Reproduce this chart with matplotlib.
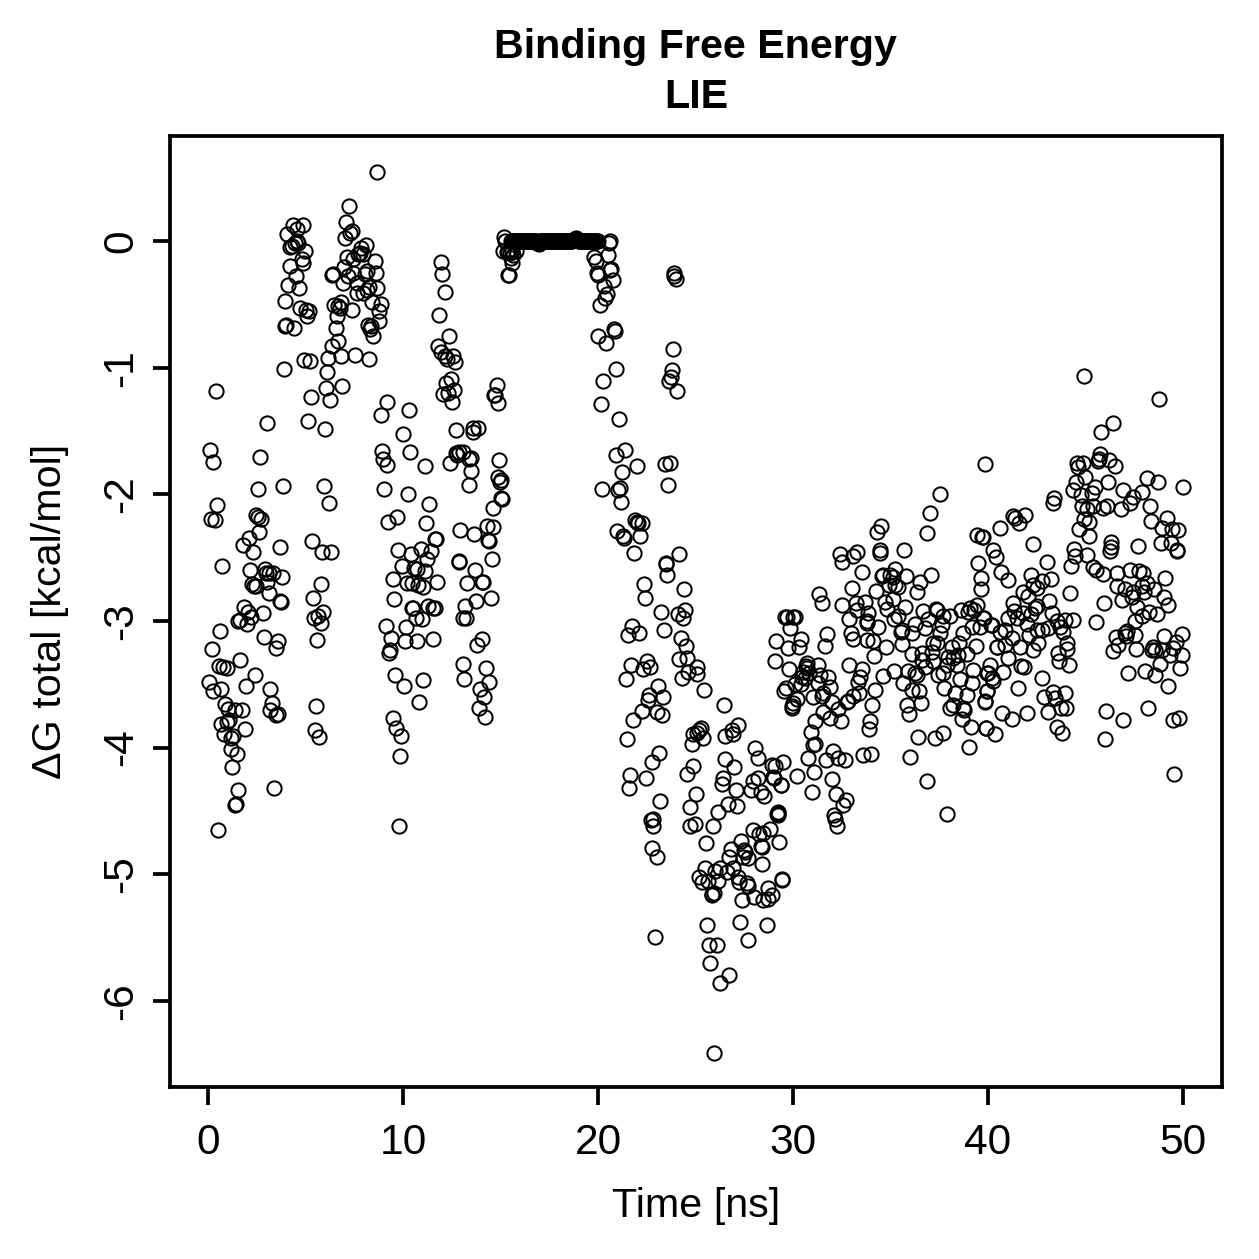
# -*-coding:utf8;-*-
import numpy as np
from matplotlib import pyplot as plt

plt.rcParams['font.family'] = ['Liberation Sans', 'DejaVu Sans']
plt.rcParams['axes.unicode_minus'] = False

# (time [ns], dG total [kcal/mol]) read per stretch of the trajectory
run_0_to_4 = [
    (0.39, -1.182), (0.1, -1.65), (0.24, -1.747), (2.68, -1.708), (3.03, -1.437), (3.88, -1.01),
    (2.55, -1.96), (3.85, -1.934), (0.44, -2.087), (0.14, -2.195), (0.34, -2.2), (2.46, -2.163),
    (2.58, -2.176), (2.7, -2.195), (2.63, -2.3), (2.1, -2.348), (1.79, -2.4), (2.32, -2.458),
    (3.69, -2.416), (0.73, -2.563), (2.15, -2.595), (2.9, -2.59), (2.97, -2.624), (3.13, -2.624),
    (3.35, -2.624), (3.81, -2.65), (2.24, -2.711), (2.36, -2.721), (2.46, -2.724), (3.01, -2.69),
    (3.13, -2.779), (3.69, -2.84), (3.73, -2.848), (1.85, -2.892), (2.05, -2.926), (2.2, -2.971),
    (2.8, -2.934), (1.56, -3.0), (1.64, -2.995), (2.02, -3.024), (0.6, -3.08), (2.85, -3.124),
    (3.57, -3.161), (3.47, -3.216), (0.19, -3.221), (1.64, -3.308), (0.55, -3.353), (0.79, -3.361),
    (0.96, -3.374), (2.39, -3.424), (0.03, -3.482), (0.27, -3.55), (0.65, -3.537), (1.95, -3.513),
    (3.2, -3.537), (3.26, -3.645), (3.18, -3.703), (3.49, -3.742), (3.61, -3.734), (0.87, -3.655),
    (1.04, -3.697), (1.38, -3.703), (1.73, -3.703), (1.09, -3.782), (0.99, -3.795), (0.67, -3.816),
    (1.9, -3.855), (0.84, -3.892), (1.27, -3.908), (1.16, -3.926), (1.18, -4.011), (1.5, -4.05),
    (1.23, -4.15), (1.54, -4.334), (3.4, -4.316), (1.42, -4.445), (1.38, -4.45), (0.5, -4.65),
]
run_4_to_9 = [
    (8.68, 0.547), (7.25, 0.276), (7.08, 0.153), (7.37, 0.079), (7.3, 0.066), (7.03, 0.024),
    (4.34, 0.124), (4.85, 0.124), (4.58, 0.092), (4.05, 0.055), (4.55, 0.0), (4.46, -0.013),
    (4.29, -0.04), (4.2, -0.05), (4.63, -0.018), (4.97, -0.079), (4.8, -0.14), (4.89, -0.171),
    (4.19, -0.195), (4.5, -0.276), (4.12, -0.35), (4.68, -0.374), (3.95, -0.471), (4.74, -0.529),
    (5.03, -0.545), (5.2, -0.55), (5.09, -0.592), (4.02, -0.663), (3.97, -0.668), (4.43, -0.687),
    (8.1, -0.029), (7.83, -0.053), (7.8, -0.092), (7.71, -0.105), (7.93, -0.105), (7.11, -0.124),
    (7.45, -0.145), (8.55, -0.158), (6.97, -0.205), (8.14, -0.237), (8.62, -0.255), (7.45, -0.25),
    (6.43, -0.258), (6.38, -0.268), (8.05, -0.263), (7.2, -0.276), (6.94, -0.334), (7.66, -0.329),
    (8.26, -0.36), (8.68, -0.374), (8.14, -0.389), (7.62, -0.413), (7.97, -0.413), (8.39, -0.479),
    (8.85, -0.5), (6.8, -0.479), (6.48, -0.505), (6.68, -0.513), (6.77, -0.526), (7.4, -0.547),
    (8.79, -0.553), (6.6, -0.592), (8.79, -0.632), (8.22, -0.666), (8.36, -0.671), (8.31, -0.692),
    (8.48, -0.75), (6.55, -0.69), (6.68, -0.792), (6.36, -0.829), (6.14, -0.924), (6.84, -0.91),
    (7.54, -0.903), (8.27, -0.929), (4.94, -0.94), (5.23, -0.945), (6.09, -1.037), (6.89, -1.142),
    (6.03, -1.163), (5.3, -1.232), (6.24, -1.258), (5.15, -1.418), (5.98, -1.484), (5.93, -1.932),
    (6.19, -2.069), (5.35, -2.371), (5.83, -2.453), (6.29, -2.458), (5.79, -2.705), (5.38, -2.821),
    (5.91, -2.932), (5.66, -2.958), (5.44, -2.979), (5.78, -3.013), (5.59, -3.153), (5.54, -3.668),
    (5.49, -3.858), (5.69, -3.919),
]
run_9_to_12 = [
    (9.2, -1.268), (10.29, -1.334), (8.89, -1.376), (9.98, -1.521), (8.94, -1.658), (10.34, -1.666),
    (8.99, -1.718), (9.16, -1.768), (11.15, -1.776), (9.04, -1.958), (10.24, -1.998), (11.35, -2.076),
    (9.67, -2.176), (9.23, -2.219), (11.2, -2.229), (11.69, -2.35), (11.64, -2.355), (9.74, -2.44),
    (10.39, -2.471), (10.9, -2.432), (11.42, -2.445), (11.25, -2.511), (9.95, -2.563), (10.58, -2.584),
    (10.74, -2.592), (11.13, -2.605), (9.47, -2.671), (10.19, -2.703), (10.44, -2.697), (10.79, -2.716),
    (11.04, -2.734), (11.76, -2.69), (9.54, -2.824), (10.44, -2.9), (10.53, -2.9), (11.3, -2.882),
    (11.52, -2.9), (11.64, -2.9), (10.65, -2.979), (10.96, -2.984), (9.11, -3.037), (10.15, -3.047),
    (9.4, -3.137), (10.1, -3.158), (10.7, -3.161), (11.55, -3.142), (9.33, -3.229), (9.28, -3.255),
    (9.61, -3.426), (10.05, -3.516), (11.01, -3.466), (10.8, -3.637), (9.49, -3.766), (9.66, -3.847),
    (9.9, -3.908), (9.85, -4.069), (9.79, -4.616),
]
run_12_to_15 = [
    (11.95, -0.166), (12.0, -0.26), (12.15, -0.405), (11.85, -0.584), (12.34, -0.747), (11.8, -0.829),
    (11.93, -0.876), (12.15, -0.908), (12.27, -0.934), (12.58, -0.908), (12.67, -0.955), (12.46, -1.092),
    (12.2, -1.118), (12.62, -1.176), (12.33, -1.197), (12.07, -1.21), (12.5, -1.268), (14.8, -1.137),
    (14.72, -1.218), (14.67, -1.213), (14.85, -1.276), (12.7, -1.489), (13.57, -1.474), (13.86, -1.476),
    (13.61, -1.508), (12.41, -1.755), (12.72, -1.671), (12.89, -1.663), (13.06, -1.666), (12.79, -1.692),
    (13.47, -1.71), (13.4, -1.724), (13.49, -1.816), (14.94, -1.732), (14.89, -1.863), (15.0, -1.89),
    (13.4, -1.926), (14.97, -1.9), (15.06, -2.037), (15.0, -2.03), (14.63, -2.105), (12.94, -2.284),
    (13.64, -2.313), (14.29, -2.248), (14.6, -2.255), (14.38, -2.361), (14.43, -2.366), (14.55, -2.508),
    (12.87, -2.537), (12.89, -2.529), (13.69, -2.597), (13.3, -2.697), (14.03, -2.69), (14.08, -2.69),
    (13.74, -2.84), (14.49, -2.816), (13.2, -2.884), (13.09, -2.974), (13.23, -2.976), (14.07, -3.142),
    (13.78, -3.189), (13.06, -3.342), (14.26, -3.374), (13.13, -3.458), (14.41, -3.479), (13.95, -3.537),
    (14.15, -3.603), (13.9, -3.684), (14.2, -3.76),
]
run_15_to_21 = [
    (15.18, 0.029), (15.23, 0.003), (15.11, -0.076), (15.31, -0.089), (15.57, -0.076), (15.79, -0.076),
    (15.66, -0.11), (15.52, -0.137), (15.6, -0.176), (15.43, -0.266), (15.4, -0.268), (15.37, -0.084),
    (15.49, -0.097), (20.61, 0.003), (20.55, -0.018), (20.51, -0.108), (19.79, -0.124), (19.9, -0.155),
    (20.68, -0.218), (20.61, -0.229), (19.93, -0.255), (20.02, -0.268), (20.75, -0.31), (20.31, -0.355),
    (20.44, -0.418), (20.34, -0.452), (20.1, -0.502), (20.82, -0.692), (20.85, -0.713), (19.98, -0.752),
    (20.39, -0.808), (20.9, -1.008), (20.24, -1.105), (20.15, -1.289), (21.09, -1.402),
]
# the stretch where dG sits flat around zero
flat_time = [
    15.55, 15.6, 15.65, 15.7, 15.75, 15.8, 15.85, 15.9, 15.95, 16.0,
    16.05, 16.1, 16.15, 16.2, 16.25, 16.3, 16.35, 16.4, 16.45, 16.5,
    16.55, 16.6, 16.65, 16.7, 16.75, 16.8, 16.85, 16.9, 16.95, 17.0,
    17.05, 17.1, 17.15, 17.2, 17.25, 17.3, 17.35, 17.4, 17.45, 17.5,
    17.55, 17.6, 17.65, 17.7, 17.75, 17.8, 17.85, 17.9, 17.95, 18.0,
    18.05, 18.1, 18.15, 18.2, 18.25, 18.3, 18.35, 18.4, 18.45, 18.5,
    18.55, 18.6, 18.65, 18.7, 18.75, 18.8, 18.85, 18.9, 18.95, 19.0,
    19.05, 19.1, 19.15, 19.2, 19.25, 19.3, 19.35, 19.4, 19.45, 19.5,
    19.55, 19.6, 19.65, 19.7, 19.75, 19.8, 19.85, 19.9, 19.95, 20.0,
]
flat_dg = [
    0.0, -0.004, 0.002, -0.002, 0.003, -0.003, 0.0, 0.002, -0.004, 0.001,
    -0.002, 0.003, 0.0, -0.003, 0.002, -0.001, 0.003, -0.002, 0.0, 0.002,
    -0.003, 0.001, -0.004, 0.002, -0.001, 0.003, -0.012, -0.018, -0.02, -0.014,
    0.0, 0.002, -0.003, 0.001, -0.002, 0.003, 0.0, -0.003, 0.002, -0.001,
    0.003, -0.002, 0.0, 0.002, -0.003, 0.001, -0.004, 0.002, -0.001, 0.003,
    0.0, -0.002, 0.003, -0.003, 0.001, -0.001, 0.002, -0.003, 0.003, 0.0,
    0.002, -0.002, 0.001, 0.004, 0.01, 0.016, 0.02, 0.018, 0.008, 0.0,
    -0.002, 0.003, 0.0, -0.003, 0.002, -0.001, 0.003, -0.002, 0.0, 0.002,
    -0.003, 0.001, -0.004, 0.002, -0.001, 0.003, 0.0, -0.002, 0.001, -0.003,
]
run_21_to_24 = [
    (21.4, -1.65), (20.94, -1.689), (22.0, -1.779), (21.25, -1.823), (20.2, -1.958), (21.13, -1.952),
    (21.04, -1.968), (21.19, -2.063), (21.9, -2.2), (21.98, -2.216), (22.24, -2.223), (22.07, -2.229),
    (20.97, -2.287), (21.3, -2.326), (21.35, -2.347), (22.15, -2.326), (21.84, -2.46), (24.17, -2.474),
    (23.49, -2.545), (23.88, -0.255), (23.91, -0.273), (24.02, -0.302), (23.84, -0.855), (23.79, -1.018),
    (23.74, -1.076), (23.66, -1.108), (24.05, -1.184), (23.69, -1.752), (23.45, -1.763), (23.61, -1.924),
    (23.5, -2.552), (23.55, -2.639), (22.36, -2.707), (22.39, -2.821), (24.41, -2.75), (23.25, -2.926),
    (24.08, -2.942), (24.46, -2.913), (24.34, -2.979), (23.4, -3.068), (21.76, -3.039), (21.54, -3.113),
    (22.12, -3.094), (24.24, -3.134), (24.51, -3.194), (24.17, -3.297), (24.54, -3.289), (21.69, -3.344),
    (22.49, -3.315), (22.29, -3.381), (22.66, -3.36), (21.45, -3.46), (23.09, -3.515), (22.6, -3.584),
    (23.35, -3.597), (22.58, -3.623), (22.25, -3.713), (23.04, -3.718), (23.3, -3.739), (21.81, -3.784),
    (21.5, -3.934), (23.14, -4.044), (22.78, -4.113), (22.44, -4.242), (21.66, -4.218), (21.6, -4.321),
    (23.19, -4.42), (22.84, -4.565), (22.7, -4.571), (22.84, -4.618), (22.75, -4.792), (23.0, -4.861),
    (22.94, -5.494),
]
run_24_to_30 = [
    (25.09, -3.36), (24.63, -3.407), (25.06, -3.418), (24.29, -3.447), (25.45, -3.544), (26.44, -3.665),
    (25.28, -3.842), (25.19, -3.86), (24.85, -3.894), (25.09, -3.881), (25.4, -3.921), (24.8, -3.971),
    (27.19, -3.821), (26.85, -3.86), (26.94, -3.892), (26.51, -3.905), (24.85, -4.142), (24.58, -4.207),
    (26.49, -4.089), (26.95, -4.155), (26.39, -4.242), (26.34, -4.286), (27.06, -4.334), (25.0, -4.365),
    (24.7, -4.468), (26.65, -4.444), (27.11, -4.465), (26.15, -4.507), (24.95, -4.602), (24.72, -4.623),
    (25.91, -4.618), (25.54, -4.75), (28.05, -4.007), (28.19, -4.081), (28.9, -4.136), (29.07, -4.144),
    (29.5, -4.11), (28.99, -4.236), (29.36, -4.292), (28.19, -4.244), (27.93, -4.26), (27.84, -4.334),
    (28.34, -4.347), (28.53, -4.386), (29.21, -4.505), (29.25, -4.531), (27.95, -4.65), (28.82, -4.639),
    (28.48, -4.671), (28.27, -4.681), (27.35, -4.734), (29.3, -4.742), (28.34, -4.776), (28.42, -4.786),
    (27.48, -4.808), (27.54, -4.828), (26.8, -4.802), (26.7, -4.86), (27.71, -4.873), (27.45, -4.861),
    (28.39, -4.918), (25.5, -4.952), (26.94, -4.952), (26.25, -4.952), (26.0, -4.971), (26.6, -4.984),
    (25.19, -5.018), (25.31, -5.063), (25.66, -5.057), (26.17, -5.05), (27.19, -5.018), (27.25, -5.06),
    (27.62, -5.071), (27.71, -5.092), (29.42, -5.045), (29.45, -5.039), (28.73, -5.105), (25.83, -5.158),
    (25.95, -5.15), (25.86, -5.163), (28.0, -5.176), (27.4, -5.202), (28.48, -5.202), (28.73, -5.197),
    (28.92, -5.163), (25.59, -5.397), (27.3, -5.379), (28.65, -5.397), (27.69, -5.518), (25.69, -5.555),
    (26.08, -5.562), (25.74, -5.7), (26.73, -5.794), (26.24, -5.86), (25.95, -6.415), (29.37, -4.295),
    (29.03, -4.237), (29.25, -4.514), (29.2, -4.524), (29.06, -3.314), (29.13, -3.158), (29.79, -3.379),
    (29.74, -3.216), (29.85, -3.058), (29.59, -2.971), (29.71, -2.971), (29.98, -2.966), (29.62, -3.532),
    (29.54, -3.553), (29.93, -3.669), (29.93, -3.69),
]
run_30_to_35 = [
    (30.22, -4.221), (30.75, -4.085), (31.09, -4.192), (30.96, -4.35), (32.0, -4.245), (32.2, -4.369),
    (32.72, -4.414), (32.58, -4.453), (32.1, -4.532), (32.15, -4.566), (32.24, -4.616), (32.07, -4.027),
    (31.69, -4.098), (32.32, -4.085), (32.67, -4.095), (33.57, -4.061), (34.0, -4.05), (31.11, -3.971),
    (31.04, -3.982), (30.91, -3.874), (31.14, -3.787), (31.55, -3.721), (31.9, -3.764), (32.46, -3.793),
    (32.32, -3.698), (31.98, -3.637), (32.75, -3.642), (32.8, -3.629), (33.09, -3.589), (33.4, -3.571),
    (34.2, -3.545), (34.03, -3.664), (33.95, -3.787), (33.9, -3.85), (34.63, -3.435), (33.35, -3.479),
    (33.43, -3.44), (33.52, -3.379), (32.89, -3.348), (31.81, -3.44), (31.9, -3.524), (31.38, -3.427),
    (31.3, -3.493), (31.26, -3.348), (31.01, -3.598), (31.47, -3.59), (31.55, -3.566), (30.32, -3.208),
    (30.39, -3.145), (30.1, -2.966), (31.76, -3.103), (31.66, -3.2), (30.7, -3.335), (30.65, -3.356),
    (30.73, -3.374), (30.53, -3.4), (30.84, -3.413), (30.44, -3.44), (30.61, -3.453), (30.39, -3.498),
    (30.1, -3.498), (30.22, -3.619), (30.02, -3.65), (31.35, -2.785), (31.49, -2.858), (32.41, -2.471),
    (32.49, -2.537), (33.26, -2.453), (33.09, -2.487), (34.48, -2.44), (34.46, -2.466), (33.55, -2.616),
    (33.0, -2.74), (32.53, -2.874), (33.23, -2.856), (33.69, -2.848), (33.26, -2.914), (32.87, -2.985),
    (33.86, -2.94), (33.78, -3.0), (33.78, -3.019), (32.97, -3.098), (33.06, -3.145), (34.38, -3.05),
    (33.78, -3.15), (34.12, -3.156), (34.77, -3.208), (34.15, -3.277), (34.26, -2.761), (34.55, -2.643),
    (34.63, -2.637), (34.97, -2.637), (34.94, -2.716), (34.72, -2.848), (34.8, -2.908), (34.29, -2.295),
    (34.5, -2.25),
]
run_35_to_40 = [
    (36.0, -4.071), (36.89, -4.261), (37.9, -4.527), (36.41, -3.916), (37.28, -3.927), (37.71, -3.887),
    (39.01, -3.992), (39.9, -3.845), (39.11, -3.834), (38.65, -3.777), (35.95, -3.735), (35.83, -3.664),
    (36.55, -3.65), (38.79, -3.703), (38.05, -3.69), (38.73, -3.69), (38.19, -3.664), (39.85, -3.637),
    (39.97, -3.55), (38.9, -3.585), (38.31, -3.572), (37.74, -3.532), (36.12, -3.545), (36.46, -3.553),
    (35.64, -3.49), (35.2, -3.393), (35.91, -3.393), (36.26, -3.414), (36.34, -3.427), (35.69, -2.44),
    (35.23, -2.593), (35.11, -2.65), (35.79, -2.645), (36.51, -2.69), (37.06, -2.64), (36.34, -2.774),
    (35.4, -2.729), (35.23, -2.716), (35.11, -2.827), (35.74, -2.887), (35.4, -2.961), (35.18, -2.987),
    (35.57, -3.071), (35.52, -3.085), (35.57, -3.182), (36.09, -3.093), (36.26, -3.027), (36.77, -3.058),
    (36.94, -2.987), (36.68, -2.919), (37.32, -2.908), (37.37, -2.914), (37.71, -2.961), (37.62, -3.032),
    (37.54, -3.098), (38.05, -2.961), (38.6, -2.914), (39.08, -2.9), (38.99, -2.927), (39.42, -2.874),
    (39.28, -2.914), (39.73, -2.979), (39.59, -3.045), (39.16, -3.05), (38.73, -3.093), (38.14, -3.203),
    (38.53, -3.177), (39.37, -3.195), (37.2, -3.177), (37.37, -3.177), (36.09, -3.264), (36.6, -3.256),
    (37.11, -3.243), (38.9, -3.261), (37.97, -3.282), (38.48, -3.269), (38.22, -3.295), (36.6, -3.308),
    (37.2, -3.316), (36.77, -3.361), (37.88, -3.348), (38.39, -3.348), (39.25, -3.387), (37.42, -3.427),
    (37.71, -3.413), (38.56, -3.458), (39.2, -3.492), (39.93, -3.413), (39.5, -2.545), (39.62, -2.664),
    (39.66, -2.745), (39.42, -2.321), (39.67, -2.34), (36.85, -2.308), (37.03, -2.147), (37.54, -2.0),
    (39.83, -1.763), (39.73, -2.334), (39.8, -2.978), (39.97, -3.552), (39.85, -3.636), (39.9, -3.842),
]
run_40_to_45 = [
    (40.36, -3.892), (40.1, -3.348), (40.14, -3.032), (40.19, -3.453), (40.44, -3.203), (44.91, -1.065),
    (44.58, -1.755), (44.89, -1.755), (44.63, -1.781), (44.97, -1.865), (44.51, -1.9), (44.34, -1.965),
    (44.75, -2.005), (44.8, -2.089), (44.92, -2.197), (44.68, -2.271), (43.38, -2.031), (43.35, -2.071),
    (41.9, -2.165), (41.3, -2.171), (41.38, -2.189), (41.61, -2.228), (40.6, -2.268), (42.29, -2.394),
    (40.27, -2.439), (40.41, -2.492), (43.01, -2.531), (44.43, -2.431), (44.46, -2.487), (44.24, -2.565),
    (40.65, -2.613), (41.01, -2.676), (43.21, -2.665), (42.21, -2.636), (42.75, -2.684), (42.32, -2.715),
    (42.5, -2.742), (41.78, -2.773), (42.07, -2.8), (44.2, -2.776), (43.15, -2.839), (41.27, -2.86),
    (42.53, -2.881), (41.33, -2.918), (41.81, -2.939), (42.19, -2.947), (43.27, -2.939), (42.41, -2.9),
    (41.04, -2.978), (41.47, -2.978), (41.98, -3.026), (43.52, -2.999), (43.95, -2.992), (44.34, -2.989),
    (40.19, -3.031), (40.62, -3.084), (40.87, -3.071), (43.69, -3.044), (43.86, -3.084), (42.5, -3.071),
    (42.75, -3.071), (43.09, -3.057), (42.12, -3.11), (41.21, -3.136), (42.58, -3.176), (40.44, -3.202),
    (40.87, -3.189), (41.64, -3.202), (42.32, -3.228), (44.03, -3.176), (44.07, -3.223), (41.04, -3.294),
    (43.61, -3.255), (43.66, -3.315), (44.17, -3.35), (40.02, -3.413), (41.68, -3.352), (41.85, -3.365),
    (40.79, -3.407), (40.27, -3.473), (42.75, -3.447), (41.56, -3.526), (40.7, -3.723), (41.21, -3.776),
    (42.0, -3.723), (43.09, -3.72), (42.89, -3.602), (43.32, -3.563), (43.44, -3.61), (43.97, -3.568),
    (43.74, -3.689), (44.0, -3.689), (43.56, -3.834), (43.81, -3.886),
]
run_45_to_50 = [
    (48.75, -1.244), (46.41, -1.439), (45.81, -1.507), (45.74, -1.684), (45.71, -1.721), (45.64, -1.739),
    (46.22, -1.728), (46.51, -1.779), (46.15, -1.9), (45.49, -1.939), (45.32, -1.986), (46.91, -1.965),
    (47.88, -1.981), (48.14, -1.873), (48.74, -1.9), (50.0, -1.939), (47.45, -2.018), (47.28, -2.071),
    (46.82, -2.118), (45.88, -2.105), (46.12, -2.089), (45.37, -2.092), (45.06, -2.115), (45.2, -2.215),
    (45.2, -2.328), (48.31, -2.092), (48.34, -2.207), (49.16, -2.184), (48.91, -2.268), (49.45, -2.273),
    (49.76, -2.281), (48.85, -2.386), (49.37, -2.386), (49.68, -2.439), (49.71, -2.444), (47.71, -2.41),
    (46.32, -2.378), (46.32, -2.413), (46.26, -2.447), (45.09, -2.476), (45.37, -2.571), (45.54, -2.597),
    (45.88, -2.631), (46.6, -2.618), (47.28, -2.6), (47.73, -2.605), (47.97, -2.623), (49.09, -2.661),
    (46.63, -2.728), (47.03, -2.75), (47.45, -2.768), (47.88, -2.728), (48.14, -2.702), (48.0, -2.768),
    (48.53, -2.75), (47.37, -2.813), (46.85, -2.834), (45.95, -2.855), (49.0, -2.813), (49.21, -2.873),
    (47.66, -2.892), (48.27, -2.926), (48.68, -2.944), (47.91, -2.96), (47.54, -2.997), (45.56, -3.005),
    (46.56, -3.123), (47.54, -3.11), (47.11, -3.076), (47.03, -3.097), (47.08, -3.118), (46.68, -3.189),
    (46.43, -3.236), (47.59, -3.223), (49.04, -3.118), (49.95, -3.102), (49.62, -3.163), (48.48, -3.207),
    (48.39, -3.228), (48.56, -3.228), (48.91, -3.228), (49.5, -3.215), (49.33, -3.268), (49.93, -3.268),
    (48.82, -3.342), (49.85, -3.368), (48.05, -3.394), (48.56, -3.426), (47.2, -3.413), (49.25, -3.513),
    (46.05, -3.71), (46.94, -3.781), (48.21, -3.689), (49.47, -3.781), (49.81, -3.768), (46.0, -3.934),
    (49.55, -4.21),
]

x_ticks = [0, 10, 20, 30, 40, 50]
y_ticks = [-6, -5, -4, -3, -2, -1, 0]

runs = [run_0_to_4, run_4_to_9, run_9_to_12, run_12_to_15, run_15_to_21, run_21_to_24,
        run_24_to_30, run_30_to_35, run_35_to_40, run_40_to_45, run_45_to_50]
points = np.array([p for run in runs for p in run])

fig = plt.figure(figsize=(1259 / 180, 1259 / 180), dpi=180)
ax1 = fig.add_axes([170 / 1259, 1 - 1087 / 1259, 1052 / 1259, 951 / 1259])

ax1.plot(points[:, 0], points[:, 1], 'o', ms=5.7, mfc='none', mec='black', mew=0.8)
ax1.plot(flat_time, flat_dg, 'o', ms=5.7, mfc='none', mec='black', mew=0.8)

ax1.set_xlim(-1.95, 52)
ax1.set_ylim(-6.68, 0.829)
ax1.set_xticks(x_ticks)
ax1.set_yticks(y_ticks)
ax1.set_yticklabels([str(v) for v in y_ticks], rotation=90, va='center')
ax1.tick_params(axis='both', direction='out', length=7.0, width=1.5, labelsize=17)
ax1.tick_params(axis='x', pad=7.6)
ax1.tick_params(axis='y', pad=4.5)
for spine in ax1.spines.values():
    spine.set_linewidth(1.5)

ax1.set_xlabel('Time [ns]', fontsize=16.5, labelpad=9.5)
ax1.set_ylabel('\u0394G total [kcal/mol]', fontsize=16.5, labelpad=13)
ax1.set_title('Binding Free Energy\nLIE', fontsize=16.5, fontweight='bold', pad=11, linespacing=1.4)

fig.savefig('out.png', dpi=180)
